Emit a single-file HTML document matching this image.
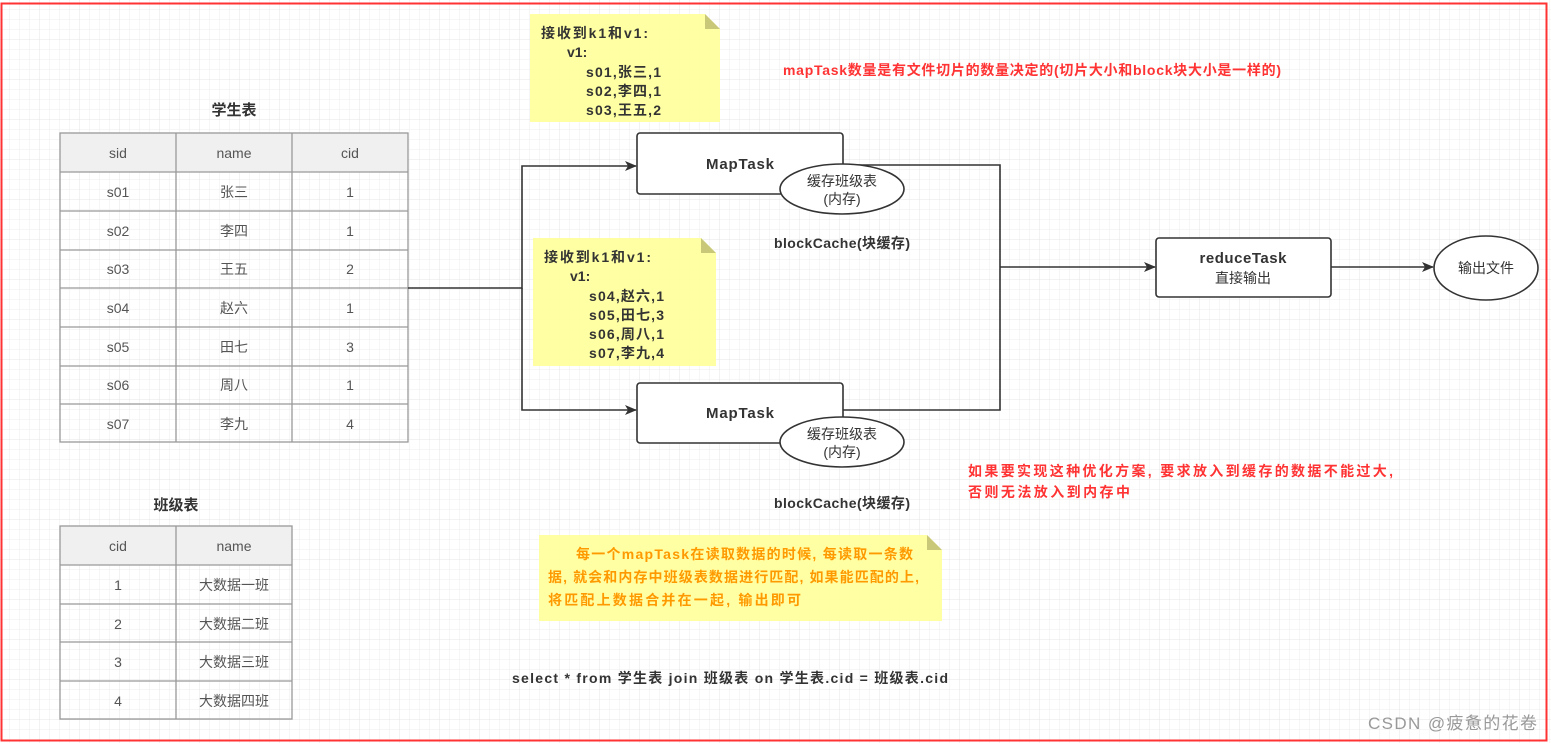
<!DOCTYPE html>
<html><head><meta charset="utf-8"><style>
body{margin:0;background:#fff}
svg{display:block}
text{font-family:"Liberation Sans","Noto Sans CJK SC",sans-serif}
</style></head><body>
<svg width="1551" height="743" viewBox="0 0 1551 743" xmlns="http://www.w3.org/2000/svg">
<defs>
<pattern id="g" width="10" height="10" patternUnits="userSpaceOnUse"><path d="M10 0V10H0" fill="none" stroke="#eeeeee" stroke-width="1"/></pattern>
<pattern id="G" width="40" height="40" patternUnits="userSpaceOnUse"><rect width="40" height="40" fill="url(#g)"/><path d="M40 0V40H0" fill="none" stroke="#e4e4e4" stroke-width="1"/></pattern>
<marker id="a" markerWidth="12" markerHeight="10" refX="11" refY="5" orient="auto" markerUnits="userSpaceOnUse"><path d="M0 0L12 5L0 10L3 5Z" fill="#333"/></marker>
</defs>
<rect width="1551" height="743" fill="url(#G)"/>
<rect x="1.5" y="3.5" width="1545" height="737" fill="none" stroke="#f33" stroke-width="2"/>

<!-- student table -->
<text x="234" y="115" font-size="15" font-weight="bold" fill="#333" text-anchor="middle">学生表</text>
<rect x="60" y="133" width="348" height="39" fill="#f0f0f0"/>
<g stroke="#999" stroke-width="1.3" fill="none">
<rect x="60" y="133" width="348" height="309"/>
<path d="M176 133V442M292 133V442M60 172H408M60 211H408M60 250H408M60 288H408M60 327H408M60 366H408M60 404H408"/>
</g>
<g font-size="14" fill="#555" text-anchor="middle">
<text x="118" y="158">sid</text><text x="234" y="158">name</text><text x="350" y="158">cid</text>
<text x="118" y="197">s01</text><text x="234" y="197">张三</text><text x="350" y="197">1</text>
<text x="118" y="236">s02</text><text x="234" y="236">李四</text><text x="350" y="236">1</text>
<text x="118" y="274">s03</text><text x="234" y="274">王五</text><text x="350" y="274">2</text>
<text x="118" y="313">s04</text><text x="234" y="313">赵六</text><text x="350" y="313">1</text>
<text x="118" y="352">s05</text><text x="234" y="352">田七</text><text x="350" y="352">3</text>
<text x="118" y="390">s06</text><text x="234" y="390">周八</text><text x="350" y="390">1</text>
<text x="118" y="429">s07</text><text x="234" y="429">李九</text><text x="350" y="429">4</text>
</g>

<!-- class table -->
<text x="176" y="510" font-size="15" font-weight="bold" fill="#333" text-anchor="middle">班级表</text>
<rect x="60" y="526" width="232" height="39" fill="#f0f0f0"/>
<g stroke="#999" stroke-width="1.3" fill="none">
<rect x="60" y="526" width="232" height="193"/>
<path d="M176 526V719M60 565H292M60 604H292M60 642H292M60 681H292"/>
</g>
<g font-size="14" fill="#555" text-anchor="middle">
<text x="118" y="551">cid</text><text x="234" y="551">name</text>
<text x="118" y="590">1</text><text x="234" y="590">大数据一班</text>
<text x="118" y="629">2</text><text x="234" y="629">大数据二班</text>
<text x="118" y="667">3</text><text x="234" y="667">大数据三班</text>
<text x="118" y="706">4</text><text x="234" y="706">大数据四班</text>
</g>

<!-- connectors -->
<g stroke="#333" stroke-width="1.6" fill="none">
<path d="M408 288H522V166H636" marker-end="url(#a)"/>
<path d="M522 288V410H636" marker-end="url(#a)"/>
<path d="M843 165H1000V410H843"/>
<path d="M1000 267H1155" marker-end="url(#a)"/>
<path d="M1331 267H1433" marker-end="url(#a)"/>
</g>

<!-- notes -->
<path d="M530 14H705L720 29V122H530Z" fill="#ffff99" fill-opacity="0.9"/>
<path d="M705 14V29H720Z" fill="#c8c878"/>
<g font-size="14" font-weight="bold" fill="#333">
<text x="541" y="38" textLength="107">接收到k1和v1:</text>
<text x="567" y="57">v1:</text>
<text x="586" y="77" textLength="75">s01,张三,1</text>
<text x="586" y="96" textLength="75">s02,李四,1</text>
<text x="586" y="115" textLength="75">s03,王五,2</text>
</g>
<path d="M533 238H701L716 253V366H533Z" fill="#ffff99" fill-opacity="0.9"/>
<path d="M701 238V253H716Z" fill="#c8c878"/>
<g font-size="14" font-weight="bold" fill="#333">
<text x="544" y="262" textLength="107">接收到k1和v1:</text>
<text x="570" y="281">v1:</text>
<text x="589" y="301" textLength="75">s04,赵六,1</text>
<text x="589" y="320" textLength="75">s05,田七,3</text>
<text x="589" y="339" textLength="75">s06,周八,1</text>
<text x="589" y="358" textLength="75">s07,李九,4</text>
</g>
<path d="M539 535H927L942 550V621H539Z" fill="#ffff99" fill-opacity="0.9"/>
<path d="M927 535V550H942Z" fill="#c8c878"/>
<g font-size="14" font-weight="bold" fill="#f90">
<text x="576" y="559" textLength="337">每一个mapTask在读取数据的时候, 每读取一条数</text>
<text x="548" y="582" textLength="371">据, 就会和内存中班级表数据进行匹配, 如果能匹配的上,</text>
<text x="548" y="605" textLength="253">将匹配上数据合并在一起, 输出即可</text>
</g>

<!-- map tasks -->
<g stroke="#333" stroke-width="1.6" fill="#fff">
<rect x="637" y="133" width="206" height="61" rx="3"/>
<ellipse cx="842" cy="189" rx="62" ry="25"/>
<rect x="637" y="383" width="206" height="60" rx="3"/>
<ellipse cx="842" cy="442" rx="62" ry="25"/>
<rect x="1156" y="238" width="175" height="59" rx="3"/>
<ellipse cx="1486" cy="268" rx="52" ry="32"/>
</g>
<g font-size="15" font-weight="bold" fill="#333" text-anchor="middle">
<text x="740" y="169" textLength="68">MapTask</text>
<text x="740" y="418" textLength="68">MapTask</text>
<text x="1243" y="263" textLength="87">reduceTask</text>
</g>
<g font-size="14" fill="#333" text-anchor="middle">
<text x="842" y="186">缓存班级表</text><text x="842" y="204">(内存)</text>
<text x="842" y="439">缓存班级表</text><text x="842" y="457">(内存)</text>
<text x="1243" y="283">直接输出</text>
<text x="1486" y="273">输出文件</text>
</g>
<g font-size="14" font-weight="bold" fill="#333" text-anchor="middle">
<text x="842" y="248" textLength="136">blockCache(块缓存)</text>
<text x="842" y="508" textLength="136">blockCache(块缓存)</text>
</g>

<!-- red notes -->
<g font-size="14" font-weight="bold" fill="#f33">
<text x="783" y="75" textLength="498">mapTask数量是有文件切片的数量决定的(切片大小和block块大小是一样的)</text>
<text x="968" y="476" textLength="425">如果要实现这种优化方案, 要求放入到缓存的数据不能过大,</text>
<text x="968" y="497" textLength="162">否则无法放入到内存中</text>
</g>

<text x="512" y="683" font-size="14" font-weight="bold" fill="#333" textLength="436">select * from  学生表 join 班级表 on 学生表.cid = 班级表.cid</text>
<text x="1368" y="729" font-size="17" fill="#999" textLength="169">CSDN @疲惫的花卷</text>
</svg>
</body></html>
